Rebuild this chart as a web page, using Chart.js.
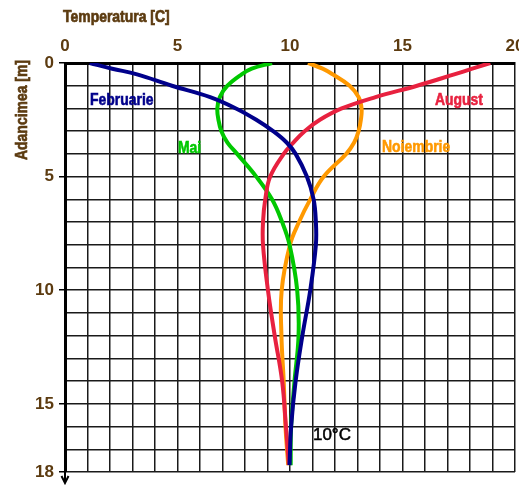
<!DOCTYPE html>
<html><head><meta charset="utf-8">
<script src="https://cdn.jsdelivr.net/npm/chart.js@4.4.1/dist/chart.umd.min.js"></script>
<style>html,body{margin:0;padding:0;background:#fff;overflow:hidden}#wrap{width:519px;height:485px;position:relative}</style>
</head><body><div id="wrap"><canvas id="c" width="519" height="485"></canvas></div>
<script>
// depth (m) sampled for every curve
const depths        = [0, 0.25, 0.5, 1, 1.5, 2, 2.5, 3, 3.5, 4, 5, 6, 7, 8, 10, 12, 14, 16, 17.7];
// temperature (C) per month at those depths
const tempFebruarie = [1.1, 2.1, 3.2, 4.75, 6.45, 7.6, 8.5, 9.25, 9.85, 10.25, 10.75, 11.05, 11.15, 11.15, 10.9, 10.55, 10.25, 10.05, 9.98];
const tempAugust    = [18.9, 18.1, 17.3, 15.65, 13.8, 12.3, 11.33, 10.65, 10.15, 9.72, 9.12, 8.9, 8.8, 8.8, 9.02, 9.32, 9.65, 9.82, 9.95];
const tempMai       = [9.2, 8.3, 7.85, 7.22, 6.88, 6.77, 6.82, 6.95, 7.22, 7.65, 8.5, 9.2, 9.65, 9.98, 10.32, 10.38, 10.2, 10.05, 10.03];
const tempNoiembrie = [10.8, 11.45, 11.9, 12.65, 13.05, 13.18, 13.15, 13.05, 12.85, 12.5, 11.5, 10.9, 10.4, 10.0, 9.63, 9.62, 9.72, 9.8, 9.92];
const seriesNames   = ['Februarie', 'August', 'Mai', 'Noiembrie'];
const xTickLabels   = [0, 5, 10, 15, 20];
const yTickLabels   = [0, 5, 10, 15, 18];
const xTitle = 'Temperatura [C]';
const yTitle = 'Adancimea [m]';
// text annotations in data coordinates [temperature, depth]
const noteText = ['Februarie', 'August', 'Mai', 'Noiembrie', '10°C'];
const noteT    = [1.11, 16.44, 5.02, 14.09, 11.02];
const noteD    = [1.85, 1.85, 3.96, 3.92, 16.59];

const colors = ['#00008b', '#e8213f', '#00c800', '#ff9900'];
const noteColors = ['#00008b', '#e8213f', '#00c800', '#ff9900', '#000'];
const brown = '#5c3b10';
const sans = '"Liberation Sans", Arial, sans-serif';
const NARROW = 0.82; // horizontal condensing to mimic a narrow bold face

const temps = [tempFebruarie, tempAugust, tempMai, tempNoiembrie];
const datasets = temps.map((arr, i) => ({
  label: seriesNames[i],
  data: arr.map((t, k) => ({x: t, y: depths[k]})),
  borderColor: colors[i],
  backgroundColor: colors[i],
  borderWidth: 4,
  pointRadius: 0,
  showLine: true,
  tension: 0.4,
  fill: false
}));

function narrowText(ctx, s, x, y, align, heavy) {
  ctx.save();
  ctx.translate(x, y);
  ctx.scale(NARROW, 1);
  ctx.textAlign = align || 'left';
  ctx.fillText(s, 0, 0);
  if (heavy) {
    ctx.strokeStyle = ctx.fillStyle;
    ctx.lineWidth = heavy;
    ctx.strokeText(s, 0, 0);
  }
  ctx.restore();
}

const decor = {
  id: 'decor',
  afterDraw(chart) {
    const ctx = chart.ctx, xs = chart.scales.x, ys = chart.scales.y, a = chart.chartArea;
    ctx.save();
    ctx.fillStyle = brown;
    ctx.font = 'bold 17px ' + sans;
    ctx.textBaseline = 'alphabetic';
    narrowText(ctx, xTitle, 63, 22, 'left', 0.7);
    ctx.save();
    ctx.translate(27, 110);
    ctx.rotate(-Math.PI / 2);
    narrowText(ctx, yTitle, 0, 0, 'center', 0.7);
    ctx.restore();
    noteText.forEach((s, i) => {
      ctx.fillStyle = noteColors[i];
      const px = xs.getPixelForValue(noteT[i]), py = ys.getPixelForValue(noteD[i]);
      if (i === 4) {
        ctx.font = '17px ' + sans;
        ctx.textAlign = 'left';
        ctx.fillText(s, px, py);
        ctx.strokeStyle = '#000';
        ctx.lineWidth = 0.5;
        ctx.strokeText(s, px, py);
      } else {
        ctx.font = 'bold 17px ' + sans;
        narrowText(ctx, s, px, py, 'left', 0.6);
      }
    });
    // arrow at the bottom of the depth axis
    ctx.strokeStyle = '#000';
    ctx.lineWidth = 2;
    ctx.beginPath();
    ctx.moveTo(a.left, a.bottom);
    ctx.lineTo(a.left, a.bottom + 11);
    ctx.moveTo(a.left - 3.5, a.bottom + 4);
    ctx.lineTo(a.left, a.bottom + 11);
    ctx.lineTo(a.left + 3.5, a.bottom + 4);
    ctx.stroke();
    ctx.restore();
  }
};

new Chart(document.getElementById('c'), {
  type: 'scatter',
  data: { datasets },
  options: {
    responsive: false,
    animation: false,
    devicePixelRatio: 1,
    layout: { padding: { left: 0, right: 4, top: 0, bottom: 13 } },
    plugins: { legend: { display: false }, tooltip: { enabled: false } },
    scales: {
      x: {
        type: 'linear', position: 'top', min: 0, max: 20,
        afterFit: s => { s.height = 63; s.paddingLeft = 0; s.paddingRight = 0; },
        ticks: {
          stepSize: 1, autoSkip: false, maxRotation: 0, padding: 6,
          color: brown, font: { family: sans, size: 17, weight: 'bold' },
          callback: v => xTickLabels.includes(v) ? String(v) : ''
        },
        grid: { color: '#1a1a1a', lineWidth: 1.5, drawTicks: false },
        border: { display: true, color: '#000', width: 3 }
      },
      y: {
        type: 'linear', reverse: true, min: 0, max: 18,
        afterFit: s => { s.width = 65; s.paddingTop = 0; s.paddingBottom = 0; },
        ticks: {
          stepSize: 1, autoSkip: false, padding: 5,
          color: brown, font: { family: sans, size: 17, weight: 'bold' },
          callback: v => yTickLabels.includes(v) ? String(v) : ''
        },
        grid: {
          color: '#1a1a1a', lineWidth: 1.5, tickLength: 6,
          tickColor: c => (c.tick && yTickLabels.includes(c.tick.value)) ? '#000' : 'rgba(0,0,0,0)'
        },
        border: { display: true, color: '#000', width: 3 }
      }
    }
  },
  plugins: [decor]
});
</script></body></html>
